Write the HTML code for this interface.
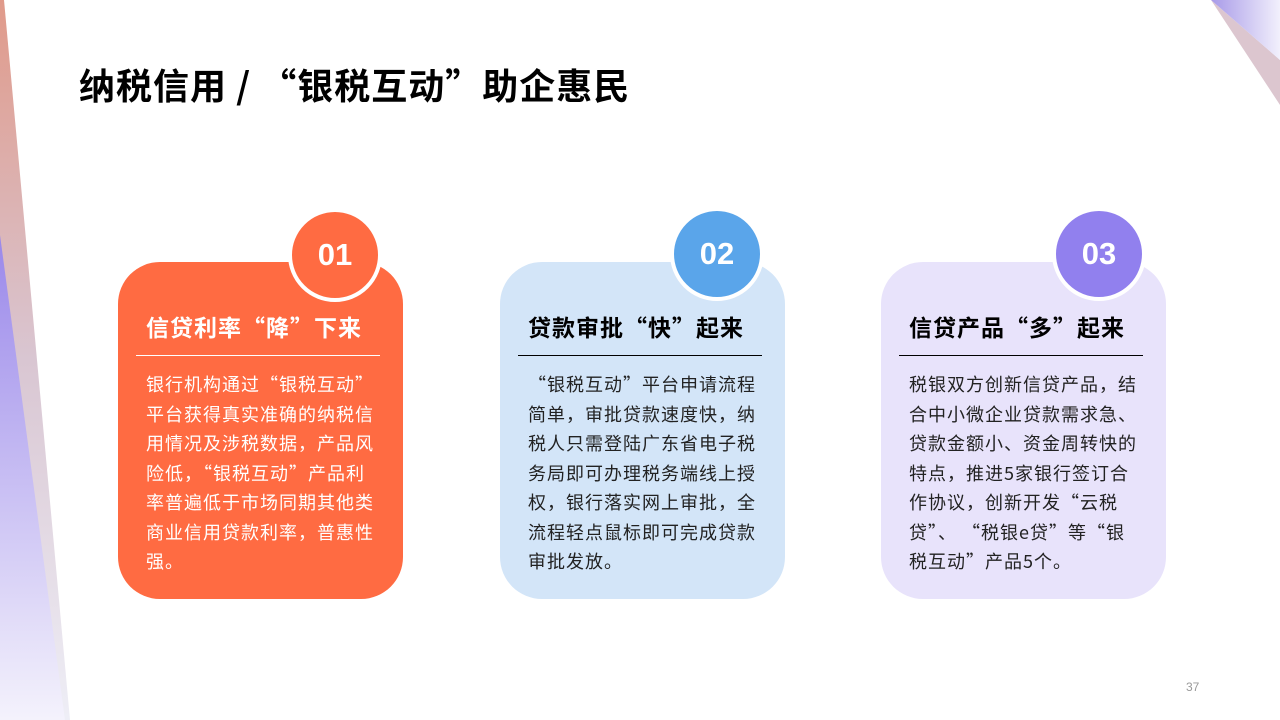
<!DOCTYPE html>
<html><head><meta charset="utf-8"><style>
*{margin:0;padding:0;box-sizing:border-box}
body{width:1280px;height:720px;position:relative;overflow:hidden;background:#fff;font-family:"Noto Sans CJK SC","Liberation Sans",sans-serif}
.t{position:absolute;left:79px;top:58px;font-size:36px;letter-spacing:1px;font-weight:bold;color:#000;white-space:nowrap}
.card{position:absolute;top:262px;width:285px;height:337px;border-radius:42px}
.circ{position:absolute;width:94px;height:94px;border-radius:50%;border:4px solid #fff;color:#fff;font-weight:bold;font-size:31px;text-align:center;line-height:86px;font-family:"Liberation Sans",sans-serif}
.h{position:absolute;left:28px;top:47px;font-size:23px;letter-spacing:1px;font-weight:bold;white-space:nowrap}
.ln{position:absolute;left:18px;top:93px;width:244px;height:1px}
.b{position:absolute;left:28px;top:108px;font-size:18px;letter-spacing:1px;line-height:29.5px;white-space:nowrap}
.pg{position:absolute;left:1186px;top:680px;font-size:12px;color:#999;font-family:"Liberation Sans",sans-serif}
</style></head><body>
<svg width="1280" height="720" style="position:absolute;left:0;top:0">
<defs>
<linearGradient id="g1" x1="0" y1="0" x2="0" y2="1"><stop offset="0" stop-color="#e09a8a"/><stop offset="0.5" stop-color="#d9c6d2"/><stop offset="1" stop-color="#eeeef6"/></linearGradient>
<linearGradient id="g2" x1="0" y1="0" x2="0" y2="1"><stop offset="0" stop-color="#9a88ea"/><stop offset="1" stop-color="#f4f2fc"/></linearGradient>
<linearGradient id="g3" x1="0" y1="0" x2="1" y2="0"><stop offset="0" stop-color="#a89ae8"/><stop offset="1" stop-color="#f2f0fc"/></linearGradient>
</defs>
<polygon points="0,0 4,0 70,720 0,720" fill="url(#g1)"/>
<polygon points="0,235 65,720 0,720" fill="url(#g2)"/>
<polygon points="1211,0 1280,105 1280,60" fill="#dcc6cf"/>
<polygon points="1211,0 1280,0 1280,60" fill="url(#g3)"/>
</svg>
<div class="t">纳税信用 / “银税互动”助企惠民</div>

<div class="card" style="left:118px;background:#ff6b42">
<div class="h" style="color:#fff">信贷利率“降”下来</div>
<div class="ln" style="background:#fff"></div>
<div class="b" style="color:#fff">银行机构通过“银税互动”<br>平台获得真实准确的纳税信<br>用情况及涉税数据，产品风<br>险低，“银税互动”产品利<br>率普遍低于市场同期其他类<br>商业信用贷款利率，普惠性<br>强。</div>
</div>
<div class="circ" style="left:288px;top:208px;background:#ff6b42">01</div>

<div class="card" style="left:500px;background:#d3e5f8">
<div class="h" style="color:#000">贷款审批“快”起来</div>
<div class="ln" style="background:#000"></div>
<div class="b" style="color:#222"> “银税互动”平台申请流程<br>简单，审批贷款速度快，纳<br>税人只需登陆广东省电子税<br>务局即可办理税务端线上授<br>权，银行落实网上审批，全<br>流程轻点鼠标即可完成贷款<br>审批发放。</div>
</div>
<div class="circ" style="left:670px;top:207px;background:#5aa5ea">02</div>

<div class="card" style="left:881px;background:#e8e3fb">
<div class="h" style="color:#000">信贷产品“多”起来</div>
<div class="ln" style="background:#000"></div>
<div class="b" style="color:#222">税银双方创新信贷产品，结<br>合中小微企业贷款需求急、<br>贷款金额小、资金周转快的<br>特点，推进5家银行签订合<br>作协议，创新开发“云税<br>贷”、 “税银e贷”等“银<br>税互动”产品5个。</div>
</div>
<div class="circ" style="left:1052px;top:207px;background:#9180ee">03</div>

<div class="pg">37</div>
</body></html>
